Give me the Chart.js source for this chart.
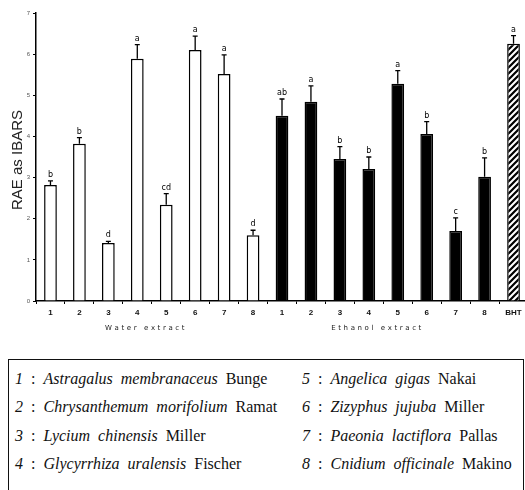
<!DOCTYPE html>
<html>
<head>
<meta charset="utf-8">
<script src="https://cdn.jsdelivr.net/npm/chart.js@4.4.0/dist/chart.umd.min.js"></script>
<style>
  html, body { margin: 0; padding: 0; background: #fff; overflow: hidden; width: 525px; height: 490px; }
  #wrap { position: absolute; left: 0; top: 0; width: 528px; height: 345px; }
  #legendBox {
    position: absolute; left: 8px; top: 359px; width: 516px; height: 150px;
    border: 1.5px solid #111; box-sizing: border-box;
    font-family: "Liberation Serif", "DejaVu Serif", serif; font-size: 16px; color: #111;
  }
  .row { position: absolute; white-space: nowrap; word-spacing: 4px; }
  .row i { font-style: italic; }
</style>
</head>
<body>
<div id="wrap"><canvas id="barChart"></canvas></div>
<div id="legendBox">
  <div class="row" style="left:6px; top:10px;"><i>1</i> : <i>Astragalus membranaceus</i> Bunge</div>
  <div class="row" style="left:6px; top:38px;"><i>2</i> : <i>Chrysanthemum morifolium</i> Ramat</div>
  <div class="row" style="left:6px; top:67px;"><i>3</i> : <i>Lycium chinensis</i> Miller</div>
  <div class="row" style="left:6px; top:95px;"><i>4</i> : <i>Glycyrrhiza uralensis</i> Fischer</div>
  <div class="row" style="left:293px; top:10px;"><i>5</i> : <i>Angelica gigas</i> Nakai</div>
  <div class="row" style="left:293px; top:38px;"><i>6</i> : <i>Zizyphus jujuba</i> Miller</div>
  <div class="row" style="left:293px; top:67px;"><i>7</i> : <i>Paeonia lactiflora</i> Pallas</div>
  <div class="row" style="left:293px; top:95px;"><i>8</i> : <i>Cnidium officinale</i> Makino</div>
</div>
<script>
const categories = ['1', '2', '3', '4', '5', '6', '7', '8', '1', '2', '3', '4', '5', '6', '7', '8', 'BHT'];
const groups = ['water', 'water', 'water', 'water', 'water', 'water', 'water', 'water',
    'ethanol', 'ethanol', 'ethanol', 'ethanol', 'ethanol', 'ethanol', 'ethanol', 'ethanol', 'bht'];
const means = [2.82, 3.82, 1.41, 5.89, 2.34, 6.1, 5.52, 1.6,
    4.5, 4.84, 3.45, 3.21, 5.28, 4.06, 1.7, 3.02, 6.25];
const errors = [0.1, 0.15, 0.04, 0.34, 0.27, 0.34, 0.46, 0.12,
    0.41, 0.39, 0.3, 0.29, 0.32, 0.3, 0.32, 0.46, 0.2];
const letters = ['b', 'b', 'd', 'a', 'cd', 'a', 'a', 'd',
    'ab', 'a', 'b', 'b', 'a', 'b', 'c', 'b', 'a'];
const groupLabels = [
    { key: 'water', text: 'Water extract' },
    { key: 'ethanol', text: 'Ethanol extract' }
];
const yTicks = [0, 1, 2, 3, 4, 5, 6, 7];

// diagonal stripes for the BHT bar
function stripePattern() {
    const c = document.createElement('canvas');
    c.width = 6; c.height = 6;
    const g = c.getContext('2d');
    g.fillStyle = '#fff';
    g.fillRect(0, 0, 6, 6);
    g.strokeStyle = '#000';
    g.lineWidth = 2.2;
    g.beginPath();
    g.moveTo(-1, 7); g.lineTo(7, -1);
    g.moveTo(-4, 4); g.lineTo(4, -4);
    g.moveTo(2, 10); g.lineTo(10, 2);
    g.stroke();
    return document.getElementById('barChart').getContext('2d').createPattern(c, 'repeat');
}

const fills = groups.map(g => g === 'water' ? '#fff' : (g === 'ethanol' ? '#000' : stripePattern()));

// error bars (up only) and significance letters
const errorBars = {
    id: 'errorBars',
    afterDatasetsDraw(chart) {
        const c = chart.ctx;
        const y = chart.scales.y;
        const meta = chart.getDatasetMeta(0);
        c.save();
        c.strokeStyle = '#000';
        c.lineWidth = 1.3;
        c.fillStyle = '#000';
        c.font = '8px "DejaVu Sans", sans-serif';
        c.textAlign = 'center';
        c.textBaseline = 'bottom';
        meta.data.forEach((bar, i) => {
            const top = y.getPixelForValue(means[i] + errors[i]);
            c.beginPath();
            c.moveTo(bar.x, bar.y);
            c.lineTo(bar.x, top);
            c.moveTo(bar.x - 2.5, top);
            c.lineTo(bar.x + 2.5, top);
            c.stroke();
            c.fillText(letters[i], bar.x, top - 2);
        });
        c.restore();
    }
};

// spaced-out text, drawn one letter at a time
function spacedText(c, text, cx, cy, gap) {
    const widths = [...text].map(ch => c.measureText(ch).width + gap);
    const total = widths.reduce((a, b) => a + b, 0) - gap;
    let px = cx - total / 2;
    [...text].forEach((ch, i) => {
        c.fillText(ch, px, cy);
        px += widths[i];
    });
}

// group names under the x axis and the y title
const extraText = {
    id: 'extraText',
    afterDraw(chart) {
        const c = chart.ctx;
        const x = chart.scales.x;
        const area = chart.chartArea;
        c.save();
        c.fillStyle = '#222';
        c.font = '7px "DejaVu Sans", sans-serif';
        c.textAlign = 'left';
        c.textBaseline = 'middle';
        groupLabels.forEach(gl => {
            const idx = groups.map((g, i) => g === gl.key ? i : -1).filter(i => i >= 0);
            const cx = (x.getPixelForValue(idx[0]) + x.getPixelForValue(idx[idx.length - 1])) / 2 - 7;
            spacedText(c, gl.text, cx, area.bottom + 27, 2.6);
        });
        c.translate(18, 160);
        c.rotate(-Math.PI / 2);
        c.textAlign = 'center';
        c.fillStyle = '#222';
        c.font = '15px "Liberation Sans", Arial, sans-serif';
        c.fillText('RAE as IBARS', 0, 0);
        c.restore();
    }
};

const ctx = document.getElementById('barChart').getContext('2d');
new Chart(ctx, {
    type: 'bar',
    data: {
        labels: categories,
        datasets: [{
            data: means,
            backgroundColor: fills,
            borderColor: '#000',
            borderWidth: 1.5,
            borderSkipped: 'bottom',
            barPercentage: 0.44,
            categoryPercentage: 1
        }]
    },
    options: {
        responsive: true,
        maintainAspectRatio: false,
        animation: false,
        devicePixelRatio: 1,
        layout: { padding: { top: 13, left: 0, right: 0, bottom: 0 } },
        scales: {
            x: {
                offset: true,
                grid: { offset: true, drawOnChartArea: false, tickLength: 3, color: '#000' },
                border: { color: '#000', width: 1.5 },
                ticks: { color: '#111', font: { size: 8, weight: 'bold' }, padding: 4, maxRotation: 0, autoSkip: false },
                afterFit(scale) { scale.height = 44; }
            },
            y: {
                min: 0,
                max: 7,
                afterBuildTicks(scale) { scale.ticks = yTicks.map(v => ({ value: v })); },
                grid: { drawOnChartArea: false, tickLength: 3, color: '#000' },
                border: { color: '#000', width: 1.5 },
                ticks: { color: '#555', font: { size: 6 }, padding: 3 },
                afterFit(scale) { scale.width = 36; }
            }
        },
        plugins: {
            legend: { display: false },
            tooltip: { enabled: false }
        }
    },
    plugins: [errorBars, extraText]
});
</script>
</body>
</html>
